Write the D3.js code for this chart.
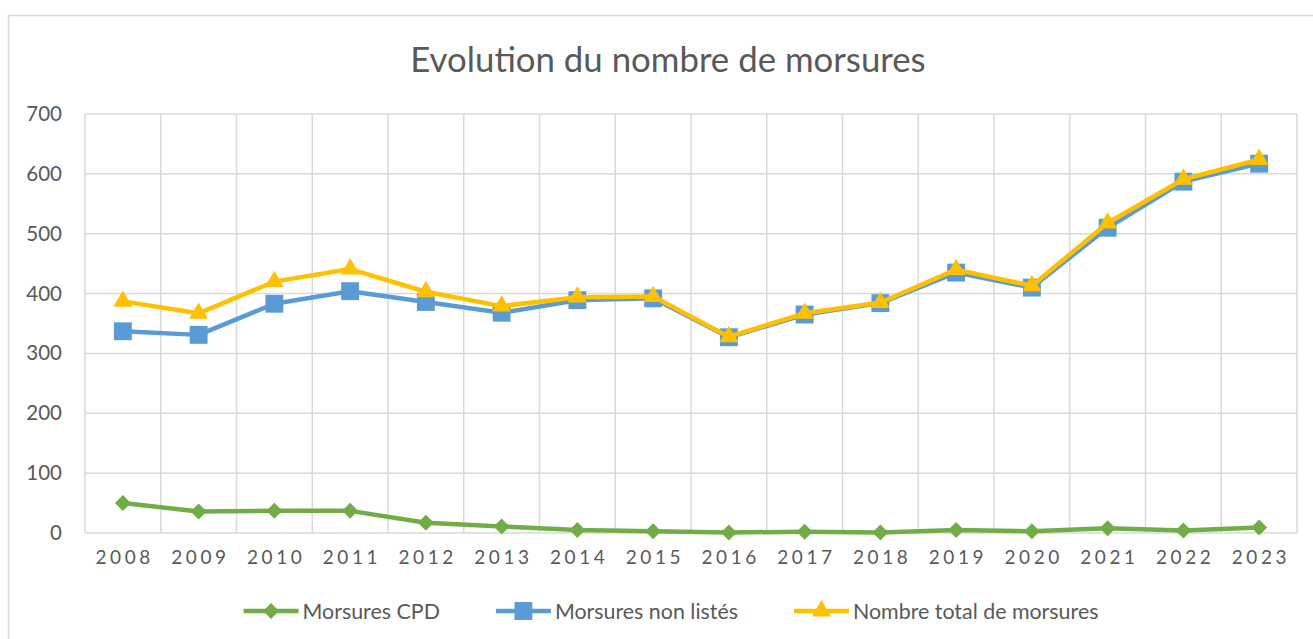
<!DOCTYPE html>
<html>
<head>
<meta charset="utf-8">
<script src="https://cdn.jsdelivr.net/npm/d3@7"></script>
<style>
  body { margin: 0; background: #fff; }
  svg { display: block; font-family: Lato, "Open Sans", sans-serif; }
</style>
</head>
<body>
<svg></svg>
<script>
// bites per year
const years = ["2008", "2009", "2010", "2011", "2012", "2013", "2014", "2015",
               "2016", "2017", "2018", "2019", "2020", "2021", "2022", "2023"];
const cpd = [50, 36, 37, 37, 17, 11, 5, 3, 1, 2, 1, 5, 3, 8, 4, 9];
const nonListes = [337, 331, 383, 404, 386, 368, 389, 392, 327, 365, 384, 435, 410, 510, 587, 617];
const total = [387, 367, 420, 441, 403, 379, 394, 395, 328, 367, 385, 440, 413, 518, 591, 624];
const yTicks = [0, 100, 200, 300, 400, 500, 600, 700];

const width = 1313, height = 639;
const svg = d3.select("svg").attr("width", width).attr("height", height);

const textColor = "#595959";
const gridColor = "#d9d9d9";

// chart frame
svg.append("rect")
  .attr("x", 8.5).attr("y", 15.5)
  .attr("width", 1330).attr("height", 700)
  .attr("fill", "none").attr("stroke", gridColor).attr("stroke-width", 1.5);

// title
svg.append("text")
  .attr("x", 668).attr("y", 72)
  .attr("text-anchor", "middle")
  .attr("font-size", "34.8px")
  .attr("fill", textColor)
  .text("Evolution du nombre de morsures");

const x = d3.scaleBand().domain(years).range([85, 1297]).padding(0);
const y = d3.scaleLinear().domain([0, 700]).range([533, 114]);
const cx = d => x(d) + x.bandwidth() / 2;

// grid
const grid = svg.append("g").attr("stroke", gridColor).attr("stroke-width", 1.5);
grid.selectAll(".h").data(yTicks).enter().append("line")
  .attr("x1", 85).attr("x2", 1297)
  .attr("y1", d => y(d)).attr("y2", d => y(d));
grid.selectAll(".v").data(years.concat(["end"])).enter().append("line")
  .attr("x1", d => d === "end" ? 1297 : x(d))
  .attr("x2", d => d === "end" ? 1297 : x(d))
  .attr("y1", 114).attr("y2", 533);

// axes (labels only)
const yAxis = svg.append("g")
  .attr("transform", "translate(70,0)")
  .call(d3.axisLeft(y).tickValues(yTicks).tickSize(0).tickPadding(8));
yAxis.select(".domain").remove();
yAxis.selectAll("text").attr("fill", textColor).attr("font-size", "20.5px")
  .attr("font-family", "Lato, sans-serif");

const xAxis = svg.append("g")
  .attr("transform", "translate(0,550)")
  .call(d3.axisBottom(x).tickSize(0).tickPadding(0));
xAxis.select(".domain").remove();
xAxis.selectAll("text").attr("fill", textColor).attr("font-size", "19px")
  .attr("font-family", "Lato, sans-serif")
  .attr("letter-spacing", "3.6px")
  .attr("dx", "1.8px");

// series
const series = [
  { name: "Morsures CPD", values: cpd, color: "#70ad47", symbol: "diamond" },
  { name: "Morsures non listés", values: nonListes, color: "#5b9bd5", symbol: "square" },
  { name: "Nombre total de morsures", values: total, color: "#ffc000", symbol: "triangle" }
];

function marker(type) {
  if (type === "square") return d3.symbol(d3.symbolSquare, 320)();
  if (type === "triangle") return d3.symbol(d3.symbolTriangle, 155)();
  return "M0,-8L8,0L0,8L-8,0Z";
}

const line = d3.line().x(d => cx(d.year)).y(d => y(d.v));

series.forEach(s => {
  const pts = years.map((yr, i) => ({ year: yr, v: s.values[i] }));
  const g = svg.append("g");
  g.append("path")
    .attr("d", line(pts))
    .attr("fill", "none")
    .attr("stroke", s.color)
    .attr("stroke-width", 4.5)
    .attr("stroke-linejoin", "round");
  g.selectAll("path.m").data(pts).enter().append("path")
    .attr("class", "m")
    .attr("d", marker(s.symbol))
    .attr("transform", d => `translate(${cx(d.year)},${y(d.v)})`)
    .attr("fill", s.color);
});

// legend
const legend = svg.append("g").attr("transform", "translate(0,611)");
const items = legend.selectAll("g").data(series).enter().append("g");
items.append("line")
  .attr("x1", 0).attr("x2", 55)
  .attr("stroke", d => d.color).attr("stroke-width", 4.5);
items.append("path")
  .attr("d", d => marker(d.symbol))
  .attr("transform", "translate(27.5,0)")
  .attr("fill", d => d.color);
items.append("text")
  .attr("x", 59).attr("dy", "0.35em")
  .attr("font-size", "21.4px")
  .attr("fill", textColor)
  .text(d => d.name);
const widths = [];
items.each(function() { widths.push(this.getBBox().width); });
const gap = 56;
const totalW = d3.sum(widths) + gap * (widths.length - 1);
let lx = 671 - totalW / 2;
items.attr("transform", (d, i) => {
  const t = `translate(${lx},0)`;
  lx += widths[i] + gap;
  return t;
});
</script>
</body>
</html>
